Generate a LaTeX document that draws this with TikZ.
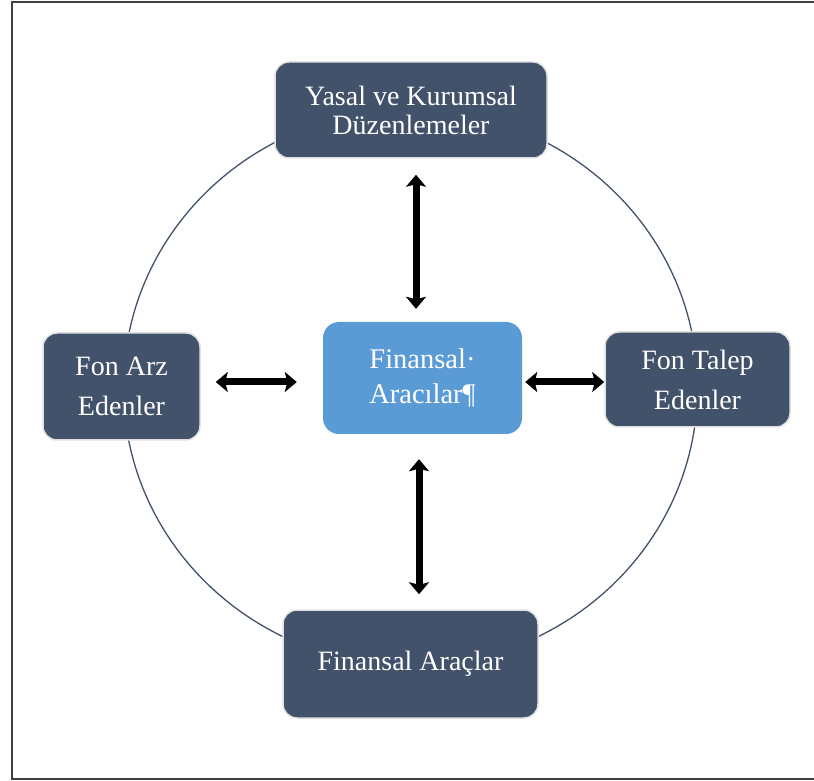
\documentclass[tikz,border=0pt]{standalone}
\usepackage{fontspec}
\setmainfont{Liberation Serif}
\usetikzlibrary{arrows.meta,calc}
\definecolor{slate}{RGB}{66,82,107}
\definecolor{midblue}{RGB}{91,155,213}
\definecolor{framegray}{RGB}{64,64,64}
\begin{document}
\begin{tikzpicture}[x=1pt,y=1pt,
  box/.style={draw=black!12, line width=1.5pt, rounded corners=14pt, fill=slate,
    text=white, align=center, inner sep=0pt, font=\fontsize{28}{29}\selectfont},
  widebox/.style={box, font=\fontsize{28}{40}\selectfont},
  hub/.style={fill=midblue, rounded corners=16pt, text=white, align=center,
    inner sep=0pt, font=\fontsize{28.5}{35}\selectfont},
  tip/.tip={Stealth[length=12pt,width=20pt,inset=2.5pt]},
  biarrow/.style={line width=7pt, tip-tip},
]
\useasboundingbox (0,0) rectangle (814,780);
% outer frame (open to the right)
\draw[framegray, line width=2pt] (818,778) -- (12,778) -- (12,1) -- (818,1);
% ring behind the boxes
\draw[slate, line width=1.3pt] (410.5,392.5) ellipse [x radius=287, y radius=278];
% boxes
\node[box, minimum width=272pt, minimum height=96pt] (top) at (411,670)
  {Yasal ve Kurumsal\\Düzenlemeler};
\node[hub, minimum width=199pt, minimum height=112pt] (mid) at (422.5,402)
  {Finansal·\\Aracılar¶};
\node[widebox, minimum width=157pt, minimum height=107pt] (lft) at (121.5,393.5)
  {Fon Arz\\Edenler};
\node[widebox, minimum width=185pt, minimum height=95pt] (rgt) at (697.5,400.5)
  {Fon Talep\\Edenler};
\node[box, minimum width=255pt, minimum height=108pt] (bot) at (410.5,116)
  {Finansal Araçlar};
% double-headed arrows
\draw[biarrow] ($(top.south)+(5,-16)$) -- ($(mid.north)+(-6.5,13)$);
\draw[biarrow] ($(mid.south)+(-3.5,-25)$) -- ($(bot.north)+(8.5,15)$);
\draw[biarrow] ($(lft.east)+(15,4.5)$) -- ($(mid.west)+(-26,-4)$);
\draw[biarrow] ($(mid.east)+(3,-4)$) -- ($(rgt.west)+(0,-2.5)$);
\end{tikzpicture}
\end{document}
